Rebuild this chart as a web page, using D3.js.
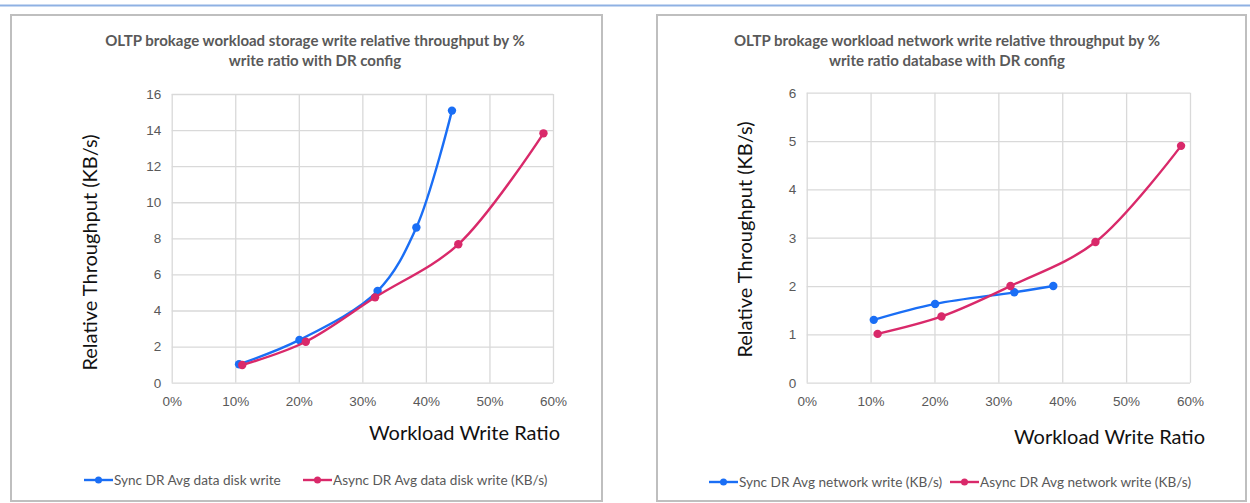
<!DOCTYPE html>
<html>
<head>
<meta charset="utf-8">
<script src="https://cdn.jsdelivr.net/npm/d3@7/dist/d3.min.js"></script>
<style>
html,body{margin:0;padding:0;background:#fff;}
svg{display:block;font-family:Lato, "Open Sans", sans-serif;}
</style>
</head>
<body>
<svg id="chart" width="1250" height="503"></svg>
<script>
// ---- Data ----
const xTicks = [0, 0.1, 0.2, 0.3, 0.4, 0.5, 0.6];

// Storage chart
const storageTitle = ["OLTP brokage workload storage write relative throughput by %", "write ratio with DR config"];
const storageYTicks = [0, 2, 4, 6, 8, 10, 12, 14, 16];
const storageSyncX = [0.106, 0.201, 0.324, 0.385, 0.441];
const storageSyncY = [1.02, 2.37, 5.08, 8.6, 15.08];
const storageAsyncX = [0.111, 0.211, 0.320, 0.451, 0.585];
const storageAsyncY = [0.98, 2.27, 4.73, 7.67, 13.82];
const storageLegend = ["Sync DR Avg data disk write", "Async DR Avg data disk write (KB/s)"];

// Network chart
const networkTitle = ["OLTP brokage workload network write relative throughput by %", "write ratio database with DR config"];
const networkYTicks = [0, 1, 2, 3, 4, 5, 6];
const networkSyncX = [0.105, 0.201, 0.325, 0.386];
const networkSyncY = [1.30, 1.63, 1.87, 2.0];
const networkAsyncX = [0.111, 0.211, 0.319, 0.452, 0.586];
const networkAsyncY = [1.01, 1.37, 2.0, 2.91, 4.90];
const networkLegend = ["Sync DR Avg network write (KB/s)", "Async DR Avg network write (KB/s)"];

const yTitle = "Relative Throughput (KB/s)";
const xTitle = "Workload Write Ratio";

const BLUE = "#1a6ef5", RED = "#d9296a", GRID = "#d9d9d9", TXT = "#595959";

const svg = d3.select("#chart");

// top blue rule
svg.append("line").attr("x1",0).attr("x2",1250).attr("y1",5.5).attr("y2",5.5)
  .attr("stroke","#8fb1e3").attr("stroke-width",2);

function drawPanel(cfg){
  const g = svg.append("g");
  // panel frame
  g.append("rect").attr("x",cfg.frame[0]).attr("y",cfg.frame[1])
    .attr("width",cfg.frame[2]).attr("height",cfg.frame[3])
    .attr("fill","#fff").attr("stroke","#bfbfbf").attr("stroke-width",2);

  const x = d3.scaleLinear().domain([0,0.6]).range([cfg.plot.left, cfg.plot.right]);
  const y = d3.scaleLinear().domain([0, d3.max(cfg.yTicks)]).range([cfg.plot.bottom, cfg.plot.top]);

  // grid + tick labels
  g.append("g").attr("transform",`translate(0,${cfg.plot.bottom})`)
    .call(d3.axisBottom(x).tickValues(xTicks).tickSize(-(cfg.plot.bottom-cfg.plot.top)).tickFormat(d3.format(".0%")))
    .call(a=>{a.select(".domain").remove();
      a.selectAll("line").attr("stroke",GRID).attr("stroke-width",1.3);
      a.selectAll("text").attr("fill",TXT).attr("font-size",13.5).attr("dy","1.5em");});
  g.append("g").attr("transform",`translate(${cfg.plot.left},0)`)
    .call(d3.axisLeft(y).tickValues(cfg.yTicks).tickSize(-(cfg.plot.right-cfg.plot.left)).tickFormat(d3.format("d")))
    .call(a=>{a.select(".domain").remove();
      a.selectAll("line").attr("stroke",GRID).attr("stroke-width",1.3);
      a.selectAll("text").attr("fill",TXT).attr("font-size",13.5).attr("dx","-0.55em");});

  // titles
  const t = g.append("text").attr("text-anchor","middle").attr("fill",TXT)
    .attr("font-weight","bold").attr("font-size",15);
  cfg.title.forEach((s,i)=>t.append("tspan").attr("x",cfg.titleX).attr("y",46+i*20).text(s));

  g.append("text").attr("transform",`translate(${cfg.yTitleX},${cfg.yTitleY}) rotate(-90)`)
    .attr("text-anchor","middle").attr("font-size",20).attr("fill","#111").text(yTitle);
  g.append("text").attr("x",cfg.xTitleX).attr("y",cfg.xTitleY).attr("text-anchor","end")
    .attr("font-size",20).attr("fill","#111").text(xTitle);

  const line = d3.line().x(d=>x(d[0])).y(d=>y(d[1])).curve(d3.curveCatmullRom.alpha(0.5));
  const series = [
    {xs:cfg.syncX, ys:cfg.syncY, color:BLUE},
    {xs:cfg.asyncX, ys:cfg.asyncY, color:RED}
  ];
  series.forEach(s=>{
    const pts = s.xs.map((v,i)=>[v, s.ys[i]]);
    g.append("path").datum(pts).attr("d",line).attr("fill","none")
      .attr("stroke",s.color).attr("stroke-width",2.4);
    g.selectAll(null).data(pts).enter().append("circle")
      .attr("cx",d=>x(d[0])).attr("cy",d=>y(d[1])).attr("r",4.2).attr("fill",s.color);
  });

  // legend
  cfg.legend.forEach((label,i)=>{
    const lx = cfg.legendX[i], ly = cfg.legendY;
    g.append("line").attr("x1",lx).attr("x2",lx+29).attr("y1",ly).attr("y2",ly)
      .attr("stroke",series[i].color).attr("stroke-width",2.4);
    g.append("circle").attr("cx",lx+14.5).attr("cy",ly).attr("r",3.5).attr("fill",series[i].color);
    g.append("text").attr("x",lx+30).attr("y",ly+5).attr("font-size",13.6).attr("fill",TXT).text(label);
  });
}

drawPanel({
  frame:[11,15,591,486],
  plot:{left:171.7,right:553,top:94,bottom:382.7},
  yTicks:storageYTicks, title:storageTitle, titleX:315,
  syncX:storageSyncX, syncY:storageSyncY, asyncX:storageAsyncX, asyncY:storageAsyncY,
  legend:storageLegend, legendX:[84,303], legendY:480,
  yTitleX:97, yTitleY:252.5, xTitleX:560, xTitleY:440
});
drawPanel({
  frame:[657,15,589,486],
  plot:{left:806.7,right:1190,top:92.7,bottom:382.7},
  yTicks:networkYTicks, title:networkTitle, titleX:947,
  syncX:networkSyncX, syncY:networkSyncY, asyncX:networkAsyncX, asyncY:networkAsyncY,
  legend:networkLegend, legendX:[709,950], legendY:482,
  yTitleX:752, yTitleY:239.5, xTitleX:1205, xTitleY:444
});
</script>
</body>
</html>
